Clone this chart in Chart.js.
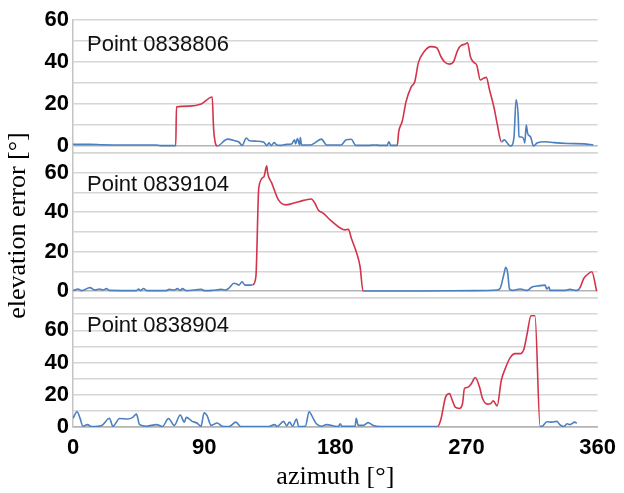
<!DOCTYPE html>
<html>
<head>
<meta charset="utf-8">
<title>elevation error vs azimuth</title>
<script src="https://cdn.jsdelivr.net/npm/chart.js@4.4.1/dist/chart.umd.min.js"></script>
<style>
  html, body { margin: 0; padding: 0; background: #fff; }
  canvas { display: block; }
</style>
</head>
<body>
<canvas id="errChart" width="624" height="493"></canvas>
<script>
// ===== 데이터: [azimuth °, elevation error °] =====
const panelNames = ['Point 0838806', 'Point 0839104', 'Point 0838904'];

const point0838806 = [
  [0, 0.8], [12, 0.8], [20, 0.6], [40, 0.5], [57, 0.5], [60, 0.2], [70.5, 0.2],
  [71, 18.6], [80, 19], [88, 20], [95.5, 23.3], [96.5, 8], [97.5, 2], [99, 0],
  [106, 3.3], [111, 2.5], [114, 1.8], [116, 0.3], [119, 3.8], [121, 2.5], [126, 2.3],
  [131, 1.8], [133, 0.2], [134.5, 1.5], [136, 0.2], [138, 1.6], [139.8, 0.5], [142.5, 0.3],
  [146.6, 0.8], [150, 1], [152, 3], [152.7, 1], [154, 3.5], [155.5, 0.5], [156, 4],
  [156.8, 0.5], [163, 0.5], [166, 1.5], [170.5, 3.3], [174, 0.5], [184, 0.5], [187.5, 3],
  [191, 3.2], [194, 0.3], [202.5, 0.3], [207, 0.5], [211, 0.3], [215.5, 0.3], [216.8, 2],
  [218, 0.3], [222.5, 0.3],
  [223.5, 6.8], [226, 12], [228.5, 21], [232, 28], [234.5, 30.6], [237, 39.7], [241, 45],
  [245.5, 47.3], [249.6, 46.8], [252.5, 42.5], [255, 40], [258.4, 39], [261, 40], [264, 45.7],
  [266.6, 48], [268.8, 48.4], [270.7, 49.2], [272.7, 42.5], [274.7, 40], [277, 38.6],
  [279.5, 31.4], [281.6, 32.2], [283.6, 32.7], [285.7, 27], [289, 18], [291, 10.8], [294, 2],
  [296, 2.9], [298, 1.4], [300, 0], [301.4, 0.5], [302.7, 5], [304, 22], [305.5, 14],
  [306, 4.4], [308, 4.3], [309.5, 2.9], [310, 1.4], [311, 10], [312, 6], [314, 4.3], [316, 0],
  [318.4, 1.4], [324, 2], [330, 1.6], [339, 1.2], [350.5, 1], [357, 0.6]
];
const red0838806 = [[70.5, 99], [222.5, 294]];

const point0839104 = [
  [0, 0.2], [3.5, 1], [6, 0.2], [11.6, 1.7], [15, 0.5], [18.4, 1], [20.5, 0.5], [23, 1.2],
  [25, 0.3], [43.6, 0.2], [45, 1], [46.4, 0.2], [48.4, 1.3], [50.5, 0.2], [64, 0.2], [66, 0.8],
  [69.5, 0.5], [71.6, 1.2], [73.6, 0.3], [75, 1.2], [77.7, 0.2], [88, 0.8], [90, 0.2],
  [95.5, 0.3], [101.6, 0.8], [105, 0.5], [107, 1.5], [110.5, 3.9], [112.5, 3.5], [113.9, 3],
  [116, 4.7], [118, 3], [122, 3], [123.4, 3.2],
  [125.5, 7.3], [127.5, 52.6], [131, 58], [132.9, 63.5], [133.6, 59.7], [136.4, 54.7],
  [141, 46.2], [146, 43.7], [154.8, 45.3], [163.6, 46.7], [166, 44.5], [168.4, 41],
  [171.8, 39.4], [176.6, 36], [186.8, 31], [189, 31.3], [191, 26.7], [194.3, 20], [197, 12.3],
  [199, 0],
  [240, 0], [275.5, 0.2], [291, 0.5], [293.2, 1.5], [295.5, 8], [297, 12], [298.3, 9],
  [299.5, 1], [301.4, 0.3], [306.8, 1], [311.6, 0.3], [315, 2], [318.4, 2.5], [324, 3],
  [325, 1], [326.6, 2], [327.3, 0.3], [336.8, 0.3], [341, 0.8], [345.7, 0.3], [347.7, 1.4],
  [350.5, 6.4], [352.5, 8], [356, 9.8], [359.3, 0]
];
const red0839104 = [[123.4, 199], [347.7, 360]];

const point0838904 = [
  [0, 5.4], [2.8, 9.5], [4.8, 5.5], [6.8, 0.5], [10, 1.5], [12.7, 0.3], [19.7, 1], [25, 5.4],
  [27.4, 0.5], [32, 5.3], [37.5, 5], [41, 6], [43.5, 8], [45.7, 1.5], [50.5, 0.5], [57.3, 1.5],
  [61.4, 0.3], [65.5, 5.3], [69.5, 1], [73.6, 7.4], [76.4, 3], [77.7, 6], [81.8, 3.5],
  [85, 2.5], [87.8, 0.5], [90, 8.8], [92, 7], [94.8, 1], [99, 2.5], [102.3, 0.5], [107, 0.3],
  [111.8, 3], [115, 0.3], [134.3, 0.3], [138.4, 1.5], [140, 0.3], [144.5, 3.5], [146.6, 0.8],
  [148.6, 3], [150.7, 0.5], [153.4, 5], [154.8, 0.3], [159.5, 0.5], [162, 9.5], [165, 5],
  [167, 2], [170.5, 0.5], [174, 1.5], [180, 0.5], [182, 0.3], [183.4, 2], [184.5, 0.5],
  [193.6, 0.5], [194.3, 5.4], [195.7, 1], [199, 1], [202.5, 2.7], [206, 1], [210.7, 0.3],
  [250.2, 0.3],
  [252.3, 4.3], [255.7, 18.7], [258.4, 20.8], [259.8, 17.7], [262.5, 12.1], [265, 11.5],
  [267.3, 14.6], [268.6, 23.9], [270.7, 24.5], [273.4, 27], [276, 30.7], [278.9, 24.9],
  [281, 17.7], [284.3, 14.2], [286.4, 14.4], [288.4, 16.2], [291, 13], [293.9, 29],
  [296.6, 36.2], [300, 43], [303.4, 45.5], [306.8, 45.5], [309.5, 48.6], [311.6, 57.8],
  [314.3, 69], [317, 69], [320.5, 0.5],
  [321.8, 0.5], [325.2, 3.3], [328.6, 3], [332, 3.5], [334, 1.5], [336.8, 0.3], [339, 2],
  [341, 1.5], [344.3, 3], [345.7, 2.3]
];
const red0838904 = [[250.2, 320.5]];

// 축 눈금
const xTicks = [0, 90, 180, 270, 360];
const yLabelTicks = [0, 20, 40, 60];
const yGridStep = 10;
const yRanges = [[-3.33, 60], [-3.55, 70], [0, 80]];

// ===== 스타일 =====
const BLUE = '#4a7fc0';
const RED = '#d4334c';
const GRID = '#d6d6d6';
const ZERO = '#b4b4b4';

const sansFont = '"Liberation Sans", Arial, sans-serif';
const serifFont = '"Liberation Serif", "Times New Roman", serif';

// 패널 높이 비율 (px)
const panelWeights = [133, 145, 129];

function toXY(pairs) {
    return pairs.map(([x, y]) => ({ x, y }));
}

function segColor(ranges) {
    return c => ranges.some(([a, b]) => c.p0.parsed.x >= a && c.p1.parsed.x <= b) ? RED : BLUE;
}

function makeDataset(pairs, ranges, axisId) {
    return {
        data: toXY(pairs),
        yAxisID: axisId,
        borderColor: BLUE,
        borderWidth: 1.6,
        pointRadius: 0,
        cubicInterpolationMode: 'monotone',
        segment: { borderColor: segColor(ranges) }
    };
}

function buildGrid(scale) {
    const vals = [scale.min];
    for (let v = 0; v <= scale.max + 0.01; v += yGridStep) {
        if (v !== scale.min) vals.push(v);
    }
    scale.ticks = vals.map(v => ({ value: v }));
}

function yAxis(idx, weight, withTitle) {
    return {
        type: 'linear',
        position: 'left',
        stack: 'panels',
        stackWeight: panelWeights[idx],
        weight: weight,
        min: yRanges[idx][0],
        max: yRanges[idx][1],
        afterBuildTicks: buildGrid,
        afterFit: s => { s.width = 73; },
        grid: {
            color: c => (c.tick && c.tick.value === 0) ? ZERO : GRID,
            lineWidth: 1.4,
            drawTicks: false
        },
        border: { display: true, color: '#c4c4c4', width: 1.5 },
        ticks: {
            autoSkip: false,
            padding: 4,
            color: '#000',
            font: { family: sansFont, size: 22, weight: 'bold' },
            callback: v => yLabelTicks.includes(v) ? v : ''
        },
        title: {
            display: withTitle,
            text: 'elevation error [°]',
            color: '#000',
            font: { family: serifFont, size: 26 },
            padding: { top: 3, bottom: 0 }
        }
    };
}

// 패널 이름
const labelDrop = [31, 38, 34];
const panelLabels = {
    id: 'panelLabels',
    afterDraw(chart) {
        const ctx = chart.ctx;
        ctx.save();
        ctx.font = '22px ' + sansFont;
        ctx.fillStyle = '#111';
        ctx.textBaseline = 'alphabetic';
        ['y1', 'y2', 'y3'].forEach((id, i) => {
            const s = chart.scales[id];
            ctx.fillText(panelNames[i], chart.chartArea.left + 14, s.top + labelDrop[i]);
        });
        ctx.restore();
    }
};

new Chart(document.getElementById('errChart'), {
    type: 'line',
    data: {
        datasets: [
            makeDataset(point0838806, red0838806, 'y1'),
            makeDataset(point0839104, red0839104, 'y2'),
            makeDataset(point0838904, red0838904, 'y3')
        ]
    },
    options: {
        responsive: false,
        animation: false,
        layout: { padding: { top: 20, right: 23, bottom: 0, left: 0 } },
        plugins: { legend: { display: false }, tooltip: { enabled: false } },
        scales: {
            x: {
                type: 'linear',
                position: 'bottom',
                min: 0,
                max: 360,
                afterBuildTicks: s => { s.ticks = xTicks.map(v => ({ value: v })); },
                afterFit: s => { s.height = 66; },
                grid: { display: false, drawTicks: false },
                border: { display: true, color: ZERO, width: 1.5 },
                ticks: {
                    autoSkip: false,
                    padding: 8,
                    color: '#000',
                    maxRotation: 0,
                    font: { family: sansFont, size: 22, weight: 'bold' }
                },
                title: {
                    display: true,
                    text: 'azimuth [°]',
                    color: '#000',
                    font: { family: serifFont, size: 26 },
                    padding: { top: 0, bottom: 0 }
                }
            },
            y1: yAxis(0, 3, false),
            y2: yAxis(1, 2, true),
            y3: yAxis(2, 1, false)
        }
    },
    plugins: [panelLabels]
});
</script>
</body>
</html>
